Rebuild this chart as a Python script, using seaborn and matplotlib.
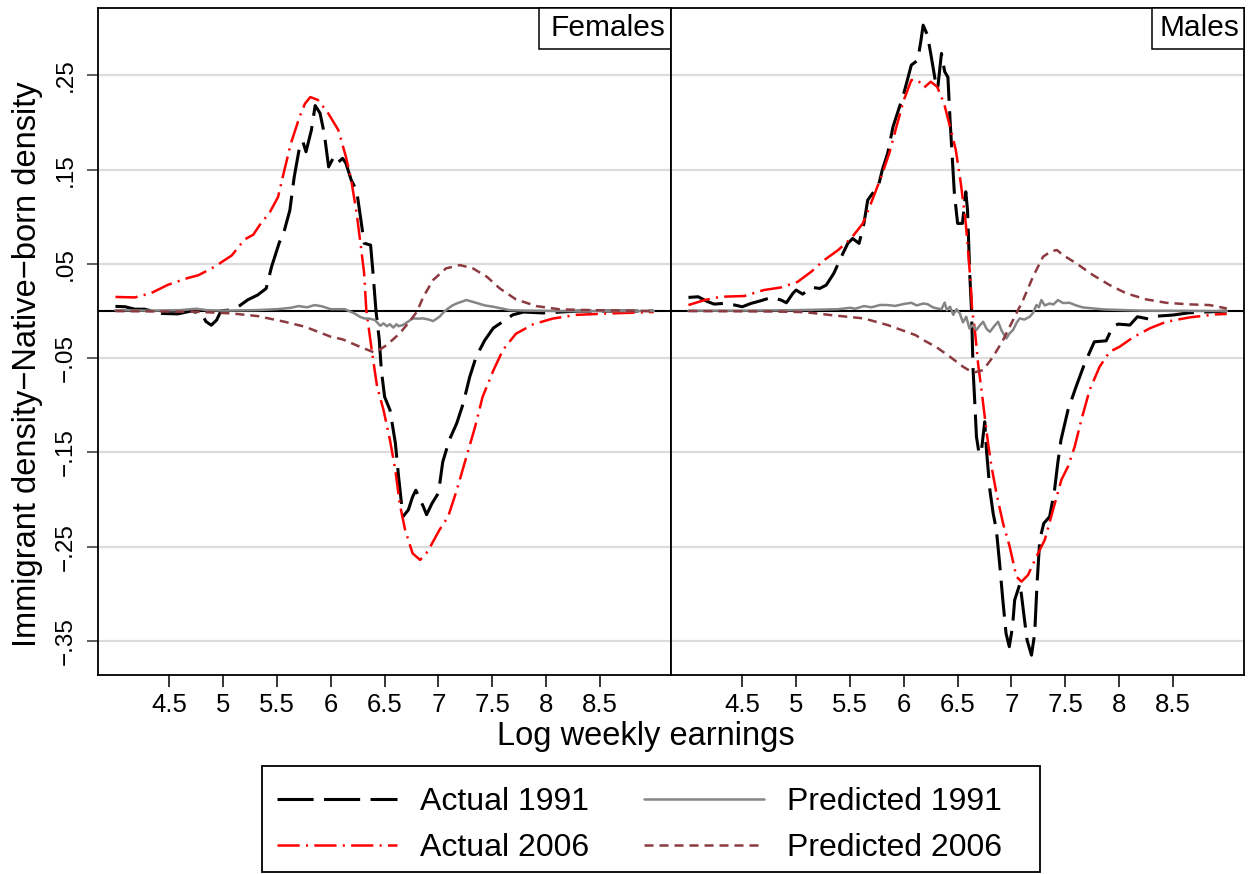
import matplotlib
matplotlib.use("Agg")
import matplotlib.pyplot as plt
from matplotlib.patches import Rectangle
import seaborn as sns
import pandas as pd

# ---------------- data ----------------
panel_titles = ["Females", "Males"]
series_labels = ["Actual 1991", "Actual 2006", "Predicted 1991", "Predicted 2006"]
x_ticks = [4.5, 5, 5.5, 6, 6.5, 7, 7.5, 8, 8.5]
x_tick_labels = ["4.5", "5", "5.5", "6", "6.5", "7", "7.5", "8", "8.5"]
y_ticks = [0.25, 0.15, 0.05, -0.05, -0.15, -0.25, -0.35]
y_tick_labels = [".25", ".15", ".05", "\u2212.05", "\u2212.15", "\u2212.25", "\u2212.35"]
x_label = "Log weekly earnings"
y_label = "Immigrant density\u2212Native\u2212born density"

fem_actual_1991 = [
    (4.00, 0.005), (4.09, 0.0046), (4.18, 0.002), (4.27, 0.002), (4.43, -0.0025),
    (4.58, -0.003), (4.70, 0.0), (4.80, -0.0025), (4.84, -0.011), (4.89, -0.015),
    (4.94, -0.0095), (4.98, 0.0003), (5.05, 0.001), (5.14, 0.0046), (5.23, 0.012),
    (5.32, 0.017), (5.40, 0.024), (5.45, 0.047), (5.52, 0.072), (5.57, 0.086),
    (5.62, 0.107), (5.66, 0.142), (5.71, 0.174), (5.74, 0.18), (5.77, 0.169),
    (5.82, 0.192), (5.855, 0.218), (5.90, 0.21), (5.94, 0.188), (5.98, 0.153),
    (6.03, 0.164), (6.07, 0.158), (6.11, 0.162), (6.14, 0.157), (6.19, 0.139),
    (6.24, 0.128), (6.28, 0.0965), (6.31, 0.072), (6.37, 0.07), (6.39, 0.0435),
    (6.42, 0.0), (6.45, -0.03), (6.47, -0.063), (6.50, -0.091), (6.55, -0.105),
    (6.60, -0.14), (6.63, -0.176), (6.66, -0.2075), (6.67, -0.218), (6.72, -0.211),
    (6.76, -0.197), (6.79, -0.19), (6.83, -0.2), (6.86, -0.2075), (6.89, -0.216),
    (6.94, -0.204), (7.00, -0.193), (7.04, -0.16), (7.10, -0.137), (7.17, -0.119),
    (7.23, -0.098), (7.29, -0.07), (7.35, -0.0485), (7.43, -0.031), (7.51, -0.018),
    (7.60, -0.011), (7.69, -0.004), (7.79, -0.001), (7.97, -0.002), (8.30, 0.0),
    (8.60, 0.0), (9.00, 0.0),
]
fem_actual_2006 = [
    (4.00, 0.015), (4.18, 0.0145), (4.33, 0.019), (4.49, 0.028), (4.67, 0.035),
    (4.77, 0.038), (4.92, 0.047), (5.08, 0.059), (5.20, 0.076), (5.28, 0.081),
    (5.35, 0.093), (5.43, 0.104), (5.51, 0.121), (5.57, 0.15), (5.63, 0.178),
    (5.71, 0.206), (5.76, 0.22), (5.81, 0.227), (5.88, 0.224), (5.97, 0.211),
    (6.07, 0.192), (6.14, 0.164), (6.19, 0.139), (6.24, 0.104), (6.28, 0.068),
    (6.31, 0.04), (6.33, 0.001), (6.38, -0.041), (6.43, -0.08), (6.49, -0.105),
    (6.55, -0.137), (6.60, -0.169), (6.64, -0.204), (6.69, -0.232), (6.76, -0.257),
    (6.83, -0.264), (6.90, -0.255), (7.01, -0.232), (7.09, -0.218), (7.17, -0.19),
    (7.26, -0.1545), (7.34, -0.123), (7.41, -0.091), (7.51, -0.063), (7.60, -0.041),
    (7.72, -0.024), (7.88, -0.014), (8.06, -0.008), (8.28, -0.004), (8.59, -0.0025),
    (9.00, -0.001),
]
fem_pred_1991 = [
    (4.00, 0.001), (4.30, 0.0005), (4.60, 0.001), (4.75, 0.0025), (4.85, 0.001),
    (5.00, 0.0005), (5.30, 0.001), (5.50, 0.002), (5.63, 0.0035), (5.70, 0.0053),
    (5.78, 0.004), (5.85, 0.0064), (5.92, 0.005), (6.00, 0.002), (6.13, 0.002),
    (6.22, -0.0025), (6.27, -0.006), (6.31, -0.0078), (6.36, -0.008), (6.41, -0.0095),
    (6.46, -0.0156), (6.49, -0.013), (6.52, -0.016), (6.55, -0.014), (6.58, -0.0175),
    (6.61, -0.014), (6.63, -0.016), (6.67, -0.0148), (6.72, -0.011), (6.76, -0.0078),
    (6.81, -0.008), (6.86, -0.0078), (6.91, -0.009), (6.95, -0.0106), (7.01, -0.006),
    (7.05, -0.001), (7.09, 0.0028), (7.13, 0.006), (7.17, 0.0081), (7.26, 0.0117),
    (7.35, 0.0088), (7.43, 0.006), (7.51, 0.0046), (7.66, 0.001), (7.80, 0.0005),
    (8.20, 0.0), (9.00, 0.0),
]
fem_pred_2006 = [
    (4.00, 0.0), (4.77, -0.0008), (5.08, -0.0025), (5.32, -0.0053), (5.57, -0.0113),
    (5.76, -0.0166), (6.00, -0.0272), (6.11, -0.030), (6.27, -0.0378), (6.41, -0.0442),
    (6.52, -0.036), (6.64, -0.0237), (6.73, -0.0113), (6.80, -0.0007), (6.86, 0.0152),
    (6.95, 0.0329), (7.07, 0.0453), (7.20, 0.0488), (7.32, 0.0453), (7.45, 0.0364),
    (7.57, 0.024), (7.72, 0.0124), (7.91, 0.0053), (8.13, 0.0018), (8.43, 0.001),
    (9.00, 0.0),
]

mal_actual_1991 = [
    (4.00, 0.0145), (4.09, 0.0152), (4.18, 0.0099), (4.24, 0.0074), (4.32, 0.0081),
    (4.43, 0.0064), (4.50, 0.0046), (4.58, 0.0081), (4.67, 0.0109), (4.77, 0.0145),
    (4.86, 0.0117), (4.91, 0.0088), (4.97, 0.0188), (5.00, 0.0223), (5.06, 0.018),
    (5.15, 0.0251), (5.22, 0.024), (5.28, 0.0276), (5.35, 0.04), (5.42, 0.0576),
    (5.48, 0.0718), (5.525, 0.077), (5.585, 0.0718), (5.63, 0.093), (5.665, 0.1177),
    (5.73, 0.128), (5.77, 0.1354), (5.80, 0.1495), (5.85, 0.1672), (5.90, 0.1955),
    (5.96, 0.2166), (6.00, 0.2308), (6.07, 0.2609), (6.13, 0.2662), (6.16, 0.2874),
    (6.18, 0.3033), (6.22, 0.2927), (6.25, 0.2733), (6.30, 0.2397), (6.315, 0.2362),
    (6.35, 0.2733), (6.38, 0.254), (6.41, 0.248), (6.43, 0.2025), (6.45, 0.1636),
    (6.47, 0.1248), (6.50, 0.093), (6.545, 0.093), (6.576, 0.1266), (6.592, 0.107),
    (6.614, 0.0364), (6.629, 0.001), (6.644, -0.0626), (6.66, -0.098), (6.675, -0.1333),
    (6.70, -0.1516), (6.722, -0.1474), (6.752, -0.1174), (6.768, -0.1474), (6.80, -0.19),
    (6.83, -0.2145), (6.86, -0.232), (6.89, -0.2675), (6.92, -0.3065), (6.95, -0.342),
    (6.98, -0.356), (7.01, -0.3348), (7.03, -0.3065), (7.08, -0.2888), (7.11, -0.317),
    (7.145, -0.349), (7.186, -0.365), (7.216, -0.342), (7.238, -0.2888), (7.263, -0.2428),
    (7.30, -0.2252), (7.355, -0.218), (7.40, -0.19), (7.43, -0.1615), (7.46, -0.1368),
    (7.525, -0.105), (7.60, -0.0803), (7.68, -0.0555), (7.77, -0.0326), (7.88, -0.0315),
    (7.94, -0.0166), (7.99, -0.0138), (8.10, -0.0148), (8.17, -0.006), (8.28, -0.0085),
    (8.36, -0.0053), (8.50, -0.0042), (8.65, -0.0018), (9.00, 0.0),
]
mal_actual_2006 = [
    (4.00, 0.0064), (4.15, 0.0117), (4.30, 0.0152), (4.52, 0.016), (4.70, 0.0223),
    (4.86, 0.0251), (5.015, 0.0311), (5.14, 0.0417), (5.26, 0.054), (5.39, 0.0647),
    (5.51, 0.077), (5.62, 0.093), (5.695, 0.1142), (5.79, 0.1424), (5.865, 0.1672),
    (5.94, 0.199), (6.00, 0.2237), (6.07, 0.245), (6.13, 0.245), (6.19, 0.2372),
    (6.25, 0.2433), (6.31, 0.238), (6.375, 0.22), (6.437, 0.192), (6.483, 0.171),
    (6.53, 0.1354), (6.576, 0.093), (6.607, 0.0506), (6.623, 0.0258), (6.635, 0.001),
    (6.66, -0.02), (6.69, -0.0555), (6.722, -0.0838), (6.752, -0.112), (6.783, -0.1403),
    (6.815, -0.165), (6.861, -0.1933), (6.922, -0.2252), (6.984, -0.25), (7.046, -0.2817),
    (7.093, -0.287), (7.154, -0.28), (7.232, -0.2605), (7.309, -0.2428), (7.386, -0.211),
    (7.464, -0.179), (7.525, -0.165), (7.587, -0.144), (7.649, -0.1156), (7.726, -0.0838),
    (7.819, -0.059), (7.912, -0.0432), (8.005, -0.0378), (8.128, -0.028), (8.283, -0.0184),
    (8.438, -0.0113), (8.654, -0.0067), (8.902, -0.0035), (9.00, -0.003),
]
mal_pred_1991 = [
    (4.00, 0.0005), (4.50, 0.0005), (5.00, 0.001), (5.20, 0.0015), (5.39, 0.002),
    (5.50, 0.0035), (5.55, 0.0025), (5.63, 0.0053), (5.70, 0.004), (5.78, 0.0065),
    (5.85, 0.0064), (5.92, 0.0055), (6.00, 0.0075), (6.07, 0.0088), (6.12, 0.006),
    (6.18, 0.008), (6.22, 0.0074), (6.27, 0.004), (6.31, 0.0028), (6.35, 0.002),
    (6.38, 0.009), (6.40, 0.001), (6.43, 0.0046), (6.46, -0.004), (6.49, 0.002),
    (6.52, -0.0025), (6.55, -0.012), (6.58, -0.006), (6.61, -0.0184), (6.64, -0.015),
    (6.675, -0.02), (6.70, -0.016), (6.737, -0.0113), (6.77, -0.019), (6.80, -0.022),
    (6.84, -0.016), (6.876, -0.0113), (6.91, -0.021), (6.953, -0.029), (6.98, -0.024),
    (7.015, -0.02), (7.05, -0.012), (7.077, -0.0078), (7.12, -0.009), (7.17, -0.006),
    (7.20, -0.002), (7.232, 0.0064), (7.255, 0.004), (7.278, 0.0117), (7.31, 0.006),
    (7.355, 0.0081), (7.39, 0.007), (7.432, 0.0117), (7.48, 0.0085), (7.54, 0.0088),
    (7.60, 0.006), (7.664, 0.0039), (7.85, 0.0018), (8.20, 0.0005), (9.00, 0.0),
]
mal_pred_2006 = [
    (4.00, 0.0), (4.77, -0.0004), (5.08, -0.0011), (5.32, -0.0042), (5.63, -0.0078),
    (5.85, -0.0148), (6.11, -0.0255), (6.17, -0.030), (6.30, -0.038), (6.43, -0.0485),
    (6.55, -0.059), (6.644, -0.0654), (6.737, -0.0626), (6.829, -0.0485), (6.922, -0.0308),
    (7.015, -0.0095), (7.108, 0.0117), (7.20, 0.0364), (7.293, 0.0576), (7.37, 0.0636),
    (7.423, 0.0647), (7.479, 0.0594), (7.603, 0.0506), (7.757, 0.0382), (7.912, 0.0276),
    (8.067, 0.0188), (8.252, 0.0124), (8.438, 0.0088), (8.654, 0.0071), (8.84, 0.0064),
    (9.00, 0.0028),
]

panels = [
    [fem_actual_1991, fem_actual_2006, fem_pred_1991, fem_pred_2006],
    [mal_actual_1991, mal_actual_2006, mal_pred_1991, mal_pred_2006],
]

# ---------------- styling ----------------
sns.set_theme(style="white")
plt.rcParams["font.family"] = ["Liberation Sans", "DejaVu Sans"]
plt.rcParams["lines.scale_dashes"] = False
for key in ["text.color", "axes.labelcolor", "xtick.color", "ytick.color", "axes.edgecolor"]:
    plt.rcParams[key] = "black"

styles = [
    dict(color="black", lw=2.2, linestyle=(0, (26, 7.5))),
    dict(color="#ff0000", lw=1.8, linestyle=(0, (16, 4.5, 1.5, 4.5))),
    dict(color="#858585", lw=1.8, linestyle="-"),
    dict(color="#8c3a40", lw=1.8, linestyle=(0, (6.5, 4.3))),
]

W, H = 1251, 874
fig = plt.figure(figsize=(W / 100, H / 100), dpi=100)
fig.patch.set_facecolor("white")

ax_left, ax_right_edge, ax_top, ax_bottom = 98, 1244, 8, 674.5
ax_mid = 671
axes = [
    fig.add_axes([ax_left / W, 1 - ax_bottom / H, (ax_mid - ax_left) / W, (ax_bottom - ax_top) / H]),
    fig.add_axes([ax_mid / W, 1 - ax_bottom / H, (ax_right_edge - ax_mid) / W, (ax_bottom - ax_top) / H]),
]

handles = []
for i, (ax, series) in enumerate(zip(axes, panels)):
    for j, (data, st) in enumerate(zip(series, styles)):
        df = pd.DataFrame(data, columns=["x", "y"])
        n_before = len(ax.get_lines())
        sns.lineplot(data=df, x="x", y="y", ax=ax, estimator=None, sort=False,
                     legend=False, zorder=3 + j, **st)
        if i == 0:
            handles.append(ax.get_lines()[n_before])
    ax.axhline(0, color="black", lw=1.5, zorder=2)
    ax.set_xlim(3.838, 9.16)
    ax.set_ylim(-0.3855, 0.3215)
    ax.set_yticks(y_ticks)
    ax.yaxis.grid(True, color="#dcdcdc", lw=1.6, zorder=0)
    ax.xaxis.grid(False)
    ax.set_axisbelow(True)
    ax.set_xticks(x_ticks)
    ax.set_xticklabels(x_tick_labels, fontsize=18.5)
    ax.tick_params(axis="x", direction="out", length=8.5, width=1.1, color="black",
                   labelcolor="black", pad=5, bottom=True)
    ax.set_xlabel("")
    ax.set_ylabel("")
    for sp in ax.spines.values():
        sp.set_visible(True)
        sp.set_color("black")
        sp.set_linewidth(1.3)
    ax.set_facecolor("white")

axes[0].set_yticklabels(y_tick_labels, fontsize=17.5, rotation=90, va="center")
axes[0].tick_params(axis="y", direction="out", length=8, width=1.1, color="#333333",
                    labelcolor="black", pad=7, left=True)
axes[1].tick_params(axis="y", left=False, labelleft=False)

# panel title boxes (top-right corner)
box_specs = [(539, 607.5), (1152, 1199)]
for ax, title, (bx, tx), x0 in zip(axes, panel_titles, box_specs, [ax_left, ax_mid]):
    aw = (ax_mid - ax_left)
    ah = ax_bottom - ax_top
    bx_a = (bx - x0) / aw
    by_a = 1 - (49 - ax_top) / ah
    ax.add_patch(Rectangle((bx_a, by_a), 1 - bx_a, 1 - by_a, transform=ax.transAxes,
                           facecolor="white", edgecolor="black", lw=1.1, zorder=10,
                           clip_on=False))
    ax.text((tx - x0) / aw, 1 - (28.5 - ax_top) / ah, title, transform=ax.transAxes,
            ha="center", va="center", fontsize=21.5, color="black", zorder=11)

fig.text(646 / W, 1 - 737 / H, x_label, ha="center", va="center", fontsize=23.5, color="black")
fig.text(28 / W, 1 - 364 / H, y_label, ha="center", va="center", rotation=90,
         fontsize=23.5, color="black")

# legend box drawn at its place, entries inside without a frame
fig.patches.append(Rectangle((262 / W, 1 - 872 / H), (1040 - 262) / W, (872 - 766) / H,
                             transform=fig.transFigure, facecolor="white",
                             edgecolor="black", lw=1.3, zorder=0))
leg = fig.legend(handles, series_labels, ncol=2, loc="center left",
                 bbox_to_anchor=(277 / W, 1 - 825 / H), fontsize=23,
                 frameon=False, handlelength=3.75, handletextpad=0.72,
                 columnspacing=1.72, labelspacing=0.5, borderpad=0.0,
                 borderaxespad=0.0)
for t in leg.get_texts():
    t.set_color("black")

fig.savefig("out.png", dpi=100, facecolor="white")
